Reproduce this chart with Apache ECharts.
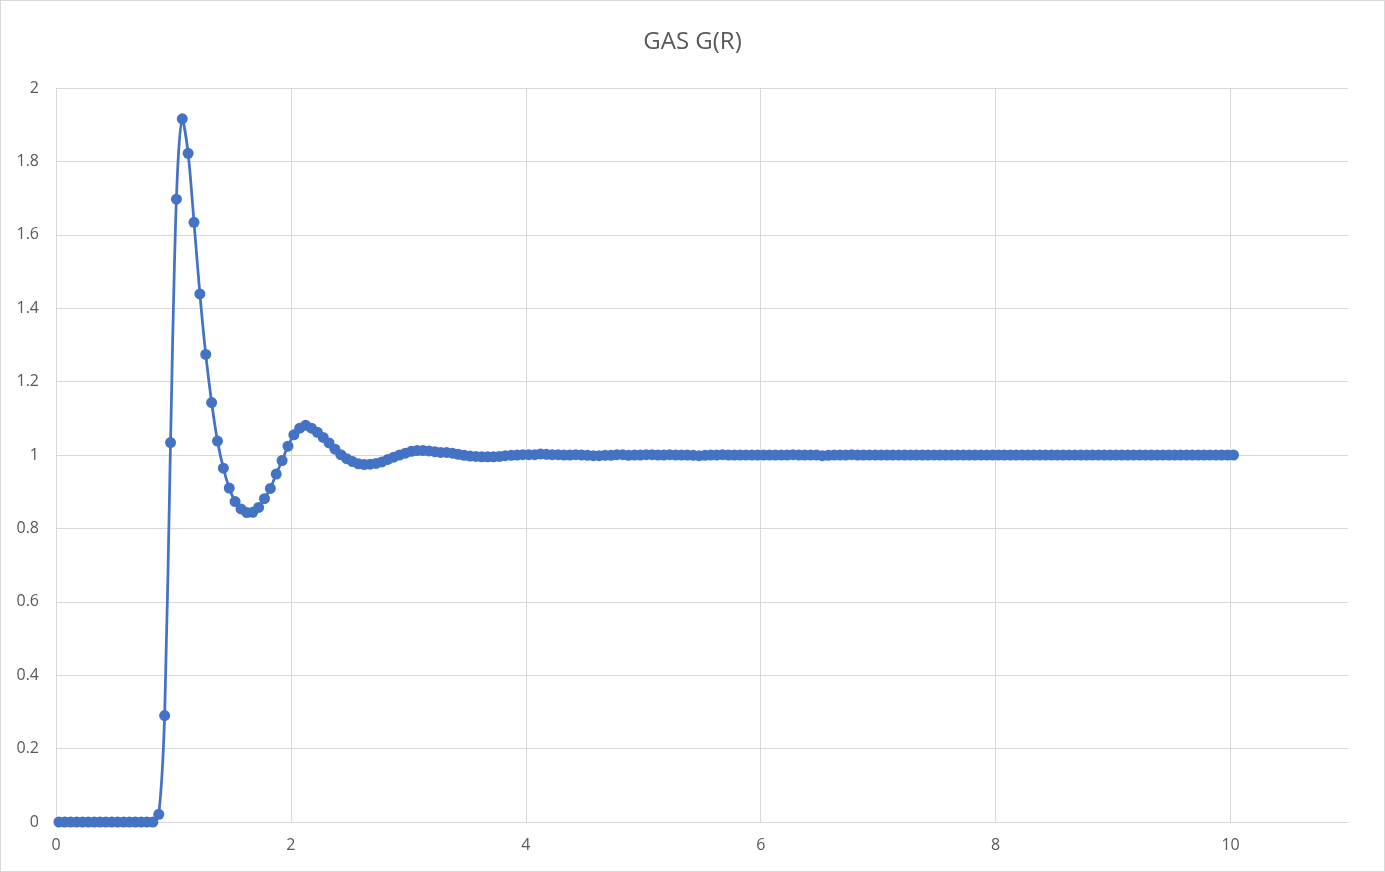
<!DOCTYPE html>
<html>
<head>
<meta charset="utf-8">
<script src="https://cdn.jsdelivr.net/npm/echarts@6/dist/echarts.min.js"></script>
<style>
html,body{margin:0;padding:0;background:#fff;}
#c{width:1383px;height:870px;border:1px solid #d9d9d9;}
</style>
</head>
<body>
<div id="c"></div>
<script>
const titleText = 'GAS G(R)';
const xTicks = [0, 2, 4, 6, 8, 10];
const yTicks = [0, 0.2, 0.4, 0.6, 0.8, 1, 1.2, 1.4, 1.6, 1.8, 2];

const rValues = [
  0.025,0.075,0.125,0.175,0.225,0.275,0.325,0.375,0.425,0.475,
  0.525,0.575,0.625,0.675,0.725,0.775,0.825,0.875,0.925,0.975,
  1.025,1.075,1.125,1.175,1.225,1.275,1.325,1.375,1.425,1.475,
  1.525,1.575,1.625,1.675,1.725,1.775,1.825,1.875,1.925,1.975,
  2.025,2.075,2.125,2.175,2.225,2.275,2.325,2.375,2.425,2.475,
  2.525,2.575,2.625,2.675,2.725,2.775,2.825,2.875,2.925,2.975,
  3.025,3.075,3.125,3.175,3.225,3.275,3.325,3.375,3.425,3.475,
  3.525,3.575,3.625,3.675,3.725,3.775,3.825,3.875,3.925,3.975,
  4.025,4.075,4.125,4.175,4.225,4.275,4.325,4.375,4.425,4.475,
  4.525,4.575,4.625,4.675,4.725,4.775,4.825,4.875,4.925,4.975,
  5.025,5.075,5.125,5.175,5.225,5.275,5.325,5.375,5.425,5.475,
  5.525,5.575,5.625,5.675,5.725,5.775,5.825,5.875,5.925,5.975,
  6.025,6.075,6.125,6.175,6.225,6.275,6.325,6.375,6.425,6.475,
  6.525,6.575,6.625,6.675,6.725,6.775,6.825,6.875,6.925,6.975,
  7.025,7.075,7.125,7.175,7.225,7.275,7.325,7.375,7.425,7.475,
  7.525,7.575,7.625,7.675,7.725,7.775,7.825,7.875,7.925,7.975,
  8.025,8.075,8.125,8.175,8.225,8.275,8.325,8.375,8.425,8.475,
  8.525,8.575,8.625,8.675,8.725,8.775,8.825,8.875,8.925,8.975,
  9.025,9.075,9.125,9.175,9.225,9.275,9.325,9.375,9.425,9.475,
  9.525,9.575,9.625,9.675,9.725,9.775,9.825,9.875,9.925,9.975,
  10.025
];

const gValues = [
  0,0,0,0,0,0,0,0,0,0,
  0,0,0,0,0,0,0,0.021,0.290,1.034,
  1.697,1.916,1.822,1.634,1.439,1.274,1.143,1.038,0.964,0.910,
  0.873,0.853,0.843,0.844,0.857,0.881,0.909,0.948,0.985,1.024,
  1.055,1.073,1.081,1.073,1.062,1.048,1.033,1.016,1.001,0.990,
  0.982,0.976,0.974,0.975,0.977,0.981,0.988,0.994,1.000,1.005,
  1.010,1.012,1.012,1.011,1.009,1.007,1.007,1.005,1.002,0.999,
  0.997,0.996,0.995,0.995,0.995,0.996,0.998,0.999,1.000,1.001,
  1.001,1.001,1.003,1.002,1.001,1.001,1.000,1.000,1.001,1.000,
  0.999,0.998,0.998,0.999,0.999,1.001,1.001,0.999,1.000,1.000,
  1.001,1.001,1.000,1.000,1.001,1.000,1.000,1.000,0.999,0.998,
  0.999,1.000,1.000,1.001,1.000,1.000,1.000,1.000,1.000,1.000,
  1.000,1.000,1.000,1.000,1.000,1.001,1.000,1.000,1.000,1.000,
  0.998,0.999,1.000,1.000,1.000,1.001,1.000,1.000,1.000,1.000,
  1.000,1.000,1.000,1.000,1.000,1.000,1.000,1.000,1.000,1.000,
  1.000,1.000,1.000,1.000,1.000,1.000,1.000,1.000,1.000,1.000,
  1.000,1.000,1.000,1.000,1.000,1.000,1.000,1.000,1.000,1.000,
  1.000,1.000,1.000,1.000,1.000,1.000,1.000,1.000,1.000,1.000,
  1.000,1.000,1.000,1.000,1.000,1.000,1.000,1.000,1.000,1.000,
  1.000,1.000,1.000,1.000,1.000,1.000,1.000,1.000,1.000,1.000,
  1.000
];

const points = rValues.map((r, i) => [r, gValues[i]]);
const fontFam = '"Open Sans", "Liberation Sans", sans-serif';
const chart = echarts.init(document.getElementById('c'));
chart.setOption({
  animation: false,
  title: {
    text: titleText, left: 'center', top: 24,
    textStyle: { fontFamily: fontFam, fontSize: 24, fontWeight: 'normal', color: '#595959' }
  },
  grid: { left: 55, right: 36, top: 87, bottom: 49, containLabel: false },
  xAxis: {
    type: 'value', min: 0, max: 11, interval: 2,
    axisLine: { show: true, lineStyle: { color: '#d9d9d9', width: 1 } },
    axisTick: { show: false },
    axisLabel: { color: '#595959', fontFamily: fontFam, fontSize: 16, margin: 15, showMaxLabel: false,
      formatter: v => (xTicks.indexOf(v) >= 0 ? String(v) : '') },
    splitLine: { show: true, showMaxLine: false, lineStyle: { color: '#d9d9d9', width: 1 } }
  },
  yAxis: {
    type: 'value', min: 0, max: 2, interval: 0.2,
    axisLine: { show: false },
    axisTick: { show: false },
    axisLabel: { color: '#595959', fontFamily: fontFam, fontSize: 16, margin: 17,
      formatter: v => { const t = yTicks.find(y => Math.abs(y - v) < 1e-9); return t === undefined ? '' : String(t); } },
    splitLine: { show: true, lineStyle: { color: '#d9d9d9', width: 1 } }
  },
  series: [{
    type: 'line',
    data: points,
    smooth: 0.3,
    symbol: 'circle',
    symbolSize: 11,
    lineStyle: { color: '#4472C4', width: 2.75 },
    itemStyle: { color: '#4472C4' }
  }]
});
</script>
</body>
</html>
